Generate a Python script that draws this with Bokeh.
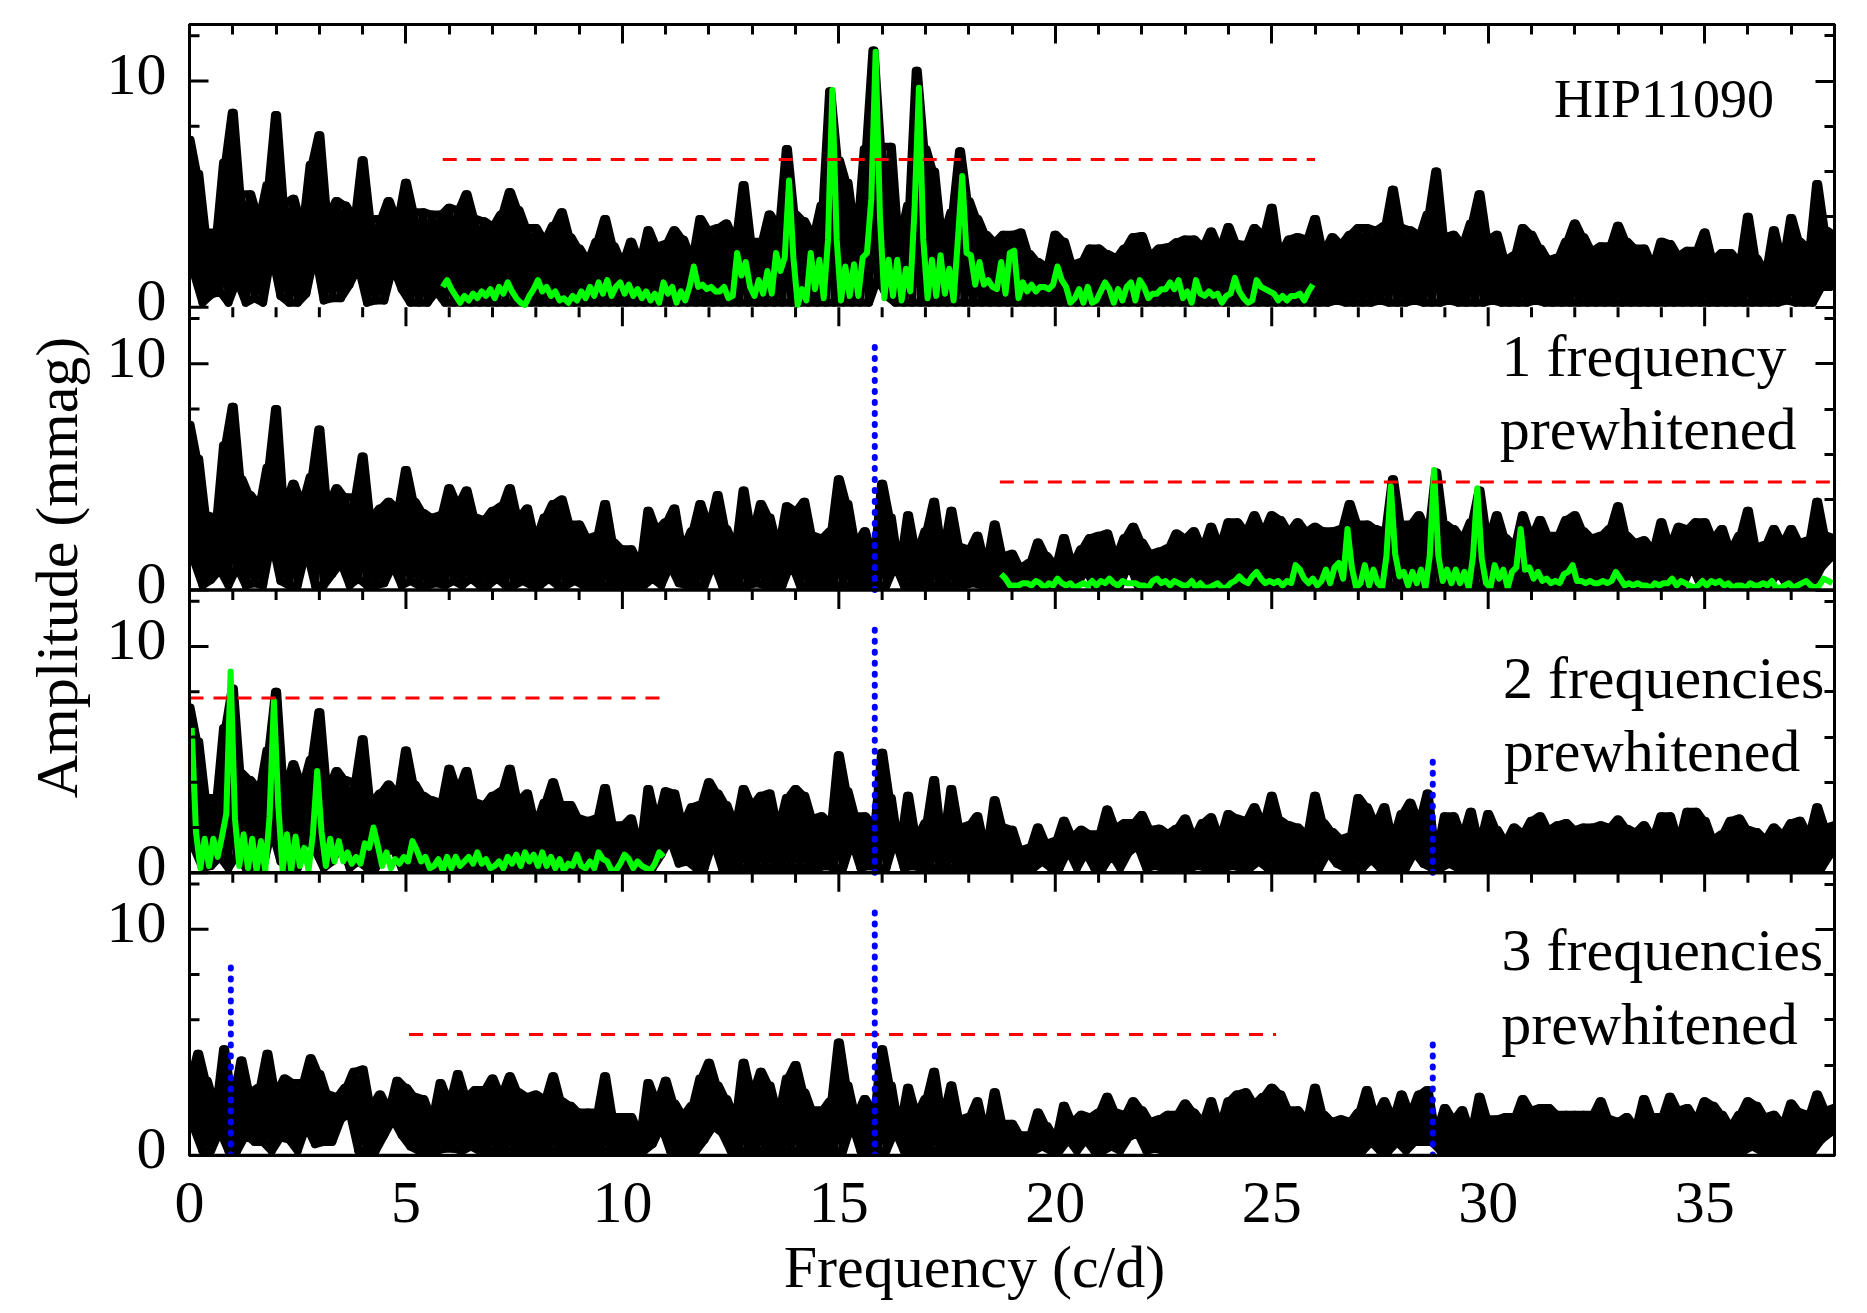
import numpy as np
from bokeh.plotting import figure
from bokeh.models import FixedTicker, LinearAxis, Label, Span, Range1d
from bokeh.embed import file_html
from bokeh.resources import INLINE

# ---------- black spectra: amplitude of the envelope every 0.2 c/d, rows of 2 c/d ----------
top_hip = [
7.4,5.9,3.3,3.3,6.4,8.6,5.0,5.0,4.0,5.4,
8.5,4.6,4.8,3.7,6.3,7.6,4.1,4.7,4.5,4.0,
6.5,3.9,3.9,4.7,3.9,5.5,4.2,4.2,4.1,4.1,
4.4,4.3,5.0,3.9,3.8,3.6,4.1,5.1,4.3,3.5,
3.5,3.0,3.6,4.2,3.1,2.6,2.1,2.9,3.9,2.7,
2.0,2.9,2.1,3.4,2.7,2.8,3.4,3.0,2.2,3.9,
3.4,3.5,3.7,3.0,5.4,2.9,2.9,4.1,3.6,7.0,
4.1,3.8,3.2,4.5,9.55,6.5,5.5,3.3,7.0,11.35,
7.1,7.1,3.1,4.5,10.45,7.0,6.0,3.2,4.2,6.9,
4.7,3.9,3.2,2.9,3.2,3.2,3.3,2.35,2.0,1.8,
3.2,2.9,1.9,2.0,2.6,2.6,2.35,2.2,2.6,3.1,
3.15,2.3,2.6,2.65,2.87,3.0,3.0,2.7,3.35,2.65,
3.55,2.8,2.75,3.5,3.2,4.4,2.4,3.0,3.1,3.0,
3.9,2.5,3.1,2.8,3.2,3.5,3.5,3.4,3.6,5.2,
3.5,3.4,3.2,4.1,6.0,3.1,3.2,2.8,3.7,5.0,
3.0,3.2,2.1,2.3,3.5,3.2,2.6,2.1,2.2,2.9,
3.7,3.1,2.5,2.7,2.7,3.6,2.9,2.6,2.6,1.9,
2.9,2.8,2.3,2.5,2.5,3.3,2.1,2.4,2.4,2.0,
4.0,2.15,1.6,3.4,2.1,3.95,2.9,2.6,5.45,3.4,
3.2]
top_one = [
7.3,5.8,3.3,3.2,6.4,8.1,4.9,4.2,3.8,5.4,
8.0,3.8,4.7,3.9,5.0,7.1,3.8,4.5,4.1,4.1,
5.9,3.2,3.6,3.9,3.6,5.3,3.9,3.4,3.2,3.3,
4.5,3.8,4.4,3.2,3.1,3.5,3.7,4.5,3.2,3.6,
2.3,3.2,3.8,4.0,2.9,2.9,2.3,2.4,3.8,2.1,
1.8,1.8,1.2,3.5,2.7,3.0,3.6,1.9,2.6,3.8,
2.9,4.2,2.7,2.0,4.4,2.6,3.8,3.2,2.0,3.7,
3.5,3.9,2.4,2.3,2.6,4.9,3.8,2.1,2.6,1.5,
4.7,3.2,1.2,3.3,1.7,2.6,3.9,1.8,3.5,1.9,
1.8,2.4,1.2,2.9,1.5,1.6,1.0,1.2,2.1,1.5,
1.1,2.3,1.2,1.8,2.3,2.4,2.5,1.5,2.3,2.8,
2.1,1.6,1.7,1.85,2.5,2.3,2.6,1.9,2.8,2.0,
3.0,3.0,2.6,3.3,2.6,3.3,3.1,2.6,3.0,2.6,
2.8,2.6,2.6,2.7,3.8,2.9,2.9,2.7,2.6,4.9,
2.9,2.9,3.3,2.6,5.2,2.9,2.7,2.3,3.0,4.4,
2.3,3.3,2.3,2.0,3.3,2.4,3.1,2.4,2.4,3.1,
3.3,2.6,2.3,2.4,2.7,3.7,2.4,2.1,2.2,1.8,
3.0,2.0,2.8,2.7,3.0,3.0,2.3,2.7,1.8,2.4,
3.5,1.9,2.0,2.7,2.1,2.7,2.1,2.2,3.9,2.4,
2.3]
top_two = [
7.3,5.8,3.3,3.3,6.4,8.15,4.4,4.1,3.7,5.4,
8.0,3.7,4.8,3.9,5.0,7.1,3.7,4.5,4.1,4.0,
5.9,3.1,3.5,3.9,3.5,5.4,3.9,3.4,3.2,3.1,
4.6,3.7,4.5,3.1,3.0,3.4,3.6,4.6,3.2,3.5,
2.2,3.1,4.0,3.0,3.0,2.4,2.3,2.4,3.75,2.1,
2.1,2.4,1.2,3.7,2.4,3.6,3.5,2.2,2.9,3.0,
4.0,3.5,3.0,2.2,3.7,3.0,3.4,3.5,2.1,3.3,
3.7,3.4,2.4,2.5,2.2,5.2,3.6,2.5,2.5,2.1,
5.3,3.3,1.3,3.4,1.6,2.2,4.1,1.5,3.7,2.0,
2.1,2.5,1.1,3.2,2.0,1.9,1.0,1.1,2.0,1.3,
1.4,2.3,1.6,1.9,1.7,1.7,2.8,2.0,2.2,2.2,
2.55,1.9,1.95,1.75,1.95,2.4,1.6,2.2,2.45,1.6,
2.6,2.4,2.3,2.9,2.2,3.4,2.3,2.1,2.0,1.7,
3.4,2.2,1.8,1.5,1.6,3.3,2.9,2.2,2.9,1.6,
2.6,3.1,2.3,3.5,1.0,2.5,2.5,1.7,2.7,1.4,
2.6,1.9,1.4,2.0,1.75,2.3,2.5,1.9,2.1,2.2,
1.9,2.0,2.0,2.1,2.0,2.35,1.95,1.8,2.1,1.6,
2.5,2.5,1.5,2.7,2.7,2.3,1.5,1.7,2.3,2.4,
1.9,1.8,1.5,2.0,1.7,2.2,2.3,1.7,2.9,2.0,
2.1]
top_three = [
3.3,4.5,3.3,2.3,4.7,2.6,4.2,2.8,3.0,4.5,
2.8,3.4,3.2,3.2,4.3,3.6,2.7,2.6,3.0,3.7,
3.8,2.2,2.7,2.1,3.3,3.0,2.6,2.5,1.7,3.2,
2.4,3.6,2.6,2.9,2.9,3.4,2.7,3.5,2.8,2.6,
2.7,2.5,3.5,2.4,2.2,1.9,1.9,1.9,3.5,1.7,
1.7,1.7,1.0,3.2,2.4,3.3,2.3,1.8,2.2,3.4,
4.1,3.1,2.5,1.7,4.1,2.8,3.7,3.1,1.9,3.4,
4.0,2.8,2.0,2.0,2.4,5.0,3.1,1.8,2.5,1.9,
4.7,3.1,1.4,3.0,1.9,2.5,3.7,1.8,3.1,1.6,
1.7,2.4,1.1,2.8,1.4,1.4,0.9,0.9,1.9,1.3,
0.8,2.2,1.5,1.8,1.7,1.9,2.6,1.9,1.8,2.4,
2.0,1.5,1.6,1.8,1.8,2.3,1.9,1.5,2.4,1.4,
2.4,2.7,2.8,2.3,2.6,3.0,2.7,2.0,2.0,1.6,
3.0,1.8,1.5,1.6,1.5,1.9,2.9,1.8,2.4,1.7,
2.7,1.9,2.7,2.9,1.1,2.1,1.6,2.0,1.1,2.6,
1.6,1.6,1.7,1.7,2.5,2.0,2.1,2.1,1.8,1.8,
1.8,1.8,1.8,2.4,1.6,1.5,1.7,1.3,2.5,1.7,
1.7,2.6,2.0,2.1,1.6,2.4,2.2,1.8,1.3,1.8,
2.4,2.2,1.7,1.8,1.4,2.3,1.9,1.8,2.7,2.0,
2.1]

# troughs that stay clear of the zero line (frequency: amplitude); all others reach TROUGH
TROUGH = 0.2
gaps_hip = {0.1:1.5,0.5:0.55,0.7:0.7,1.1:1.2,1.5:0.4,1.9:2.4,2.1:0.5,2.7:0.6,2.9:2.4,3.1:0.3,3.3:0.4,3.5:0.4,
            3.7:1.0,3.9:1.8,4.3:0.3,4.5:0.3,4.7:1.8,4.9:0.8,5.7:0.7,15.9:1.3,16.1:0.5,26.5:0.3,27.5:0.3,
            28.3:0.3,29.1:0.3,30.1:0.3,31.1:0.3,36.9:0.3,37.7:0.9,37.9:0.9}
gaps_one = {0.1:1.3,0.5:0.45,0.7:0.9,1.1:1.0,1.5:0.3,1.9:2.2,2.1:0.4,2.7:1.8,3.3:0.7,3.5:1.2,3.9:0.5,4.5:0.3,
            4.7:1.1,5.1:0.4,5.7:0.3,6.1:0.4,6.5:0.5,7.1:0.5,7.7:0.4,8.3:0.5,8.9:0.4,10.7:0.5,11.1:1.1,11.3:0.3,
            12.1:1.2,13.1:0.3,13.9:1.2,16.3:1.1,18.1:0.3,20.7:0.9,21.7:1.2,34.7:1.1,36.7:0.8,37.7:1.0,37.9:1.4}
gaps_two = {0.1:1.1,0.5:0.3,0.7:0.7,1.1:0.8,1.9:1.9,2.1:0.5,2.7:1.6,2.9:1.0,3.3:0.5,3.5:1.3,3.9:0.5,4.5:0.8,4.7:1.1,
            10.9:0.8,11.1:1.5,11.3:0.4,11.5:0.5,12.1:1.4,14.7:0.3,15.3:1.4,15.7:0.3,16.3:1.5,16.7:0.3,19.7:0.5,
            20.3:1.0,20.7:0.9,21.3:0.8,21.7:0.9,21.9:1.2,22.3:0.3,23.3:0.3,24.1:0.3,24.7:0.5,26.3:0.9,26.5:0.4,
            27.3:0.6,28.3:0.9,28.5:0.4,29.1:0.4,37.9:0.8}
gaps_three = {0.1:1.2,0.7:1.1,1.3:0.9,1.5:0.6,1.7:0.6,2.1:0.8,2.3:0.7,2.7:1.3,2.9:0.5,3.1:0.6,3.3:0.6,3.5:1.6,3.7:1.9,
              4.5:0.9,4.7:1.6,4.9:0.9,5.1:0.4,5.9:0.3,6.1:0.3,6.5:0.4,10.7:0.5,10.9:1.3,11.9:0.7,12.1:1.3,12.3:1.0,
              15.3:1.4,16.3:1.1,19.7:0.4,20.3:0.7,20.7:0.7,21.3:0.4,21.7:0.8,21.9:1.0,22.3:0.3,27.3:0.6,27.9:0.6,
              28.3:0.6,28.5:0.6,28.7:0.6,36.1:0.4,37.7:0.7,37.9:1.0}

# ---------- green residual spectra: one value every 0.1 c/d from the start frequency ----------
green_hip_start = 5.85
green_hip = [
0.9,1.2,0.8,0.5,0.2,0.5,0.3,0.6,0.4,0.7,
0.5,0.8,0.4,0.9,0.6,1.1,0.7,0.4,0.2,0.1,
0.5,0.8,1.2,0.7,0.9,0.5,0.7,0.3,0.4,0.2,
0.5,0.3,0.7,0.4,0.9,0.5,1.1,0.6,1.2,0.5,
0.9,1.1,0.6,1.0,0.5,0.8,0.4,0.7,0.3,0.6,
0.2,1.1,0.6,0.9,0.2,0.7,0.3,0.9,1.8,0.9,
1.0,0.8,0.9,0.7,0.7,0.9,0.4,0.5,2.4,1.4,
2.0,0.9,0.5,1.2,0.6,1.6,0.6,2.4,1.6,2.2,
5.6,2.2,0.1,0.8,0.3,2.4,0.8,2.1,0.4,3.0,
9.6,3.0,0.3,1.8,0.5,1.9,0.5,2.2,2.4,4.8,
11.3,4.0,0.4,2.1,0.5,2.1,0.3,1.7,0.7,4.4,
9.7,3.0,0.4,2.1,0.5,2.3,0.6,1.7,0.3,3.0,
5.8,2.4,2.3,1.0,2.0,1.0,1.2,0.9,0.8,2.0,
0.6,2.4,2.5,0.4,1.1,0.7,1.0,0.7,0.9,0.9,
0.8,1.0,1.8,1.2,0.9,0.2,0.4,0.8,0.2,0.9,
0.2,0.3,0.7,1.1,0.8,0.2,0.8,0.3,0.9,1.1,
0.3,1.2,0.9,0.4,0.6,0.6,0.8,0.8,1.1,0.8,
1.2,0.4,0.7,0.2,1.2,0.6,0.5,0.7,0.5,0.6,
0.2,0.5,0.6,1.3,0.7,0.4,0.2,0.3,1.2,0.9,
0.8,0.7,0.6,0.3,0.5,0.3,0.5,0.5,0.6,0.3,
0.7,1.0]
green_one_start = 18.75
green_one = [
0.7,0.5,0.2,0.2,0.2,0.3,0.3,0.2,0.4,0.3,
0.1,0.3,0.2,0.5,0.3,0.2,0.3,0.1,0.2,0.3,
0.2,0.4,0.2,0.4,0.3,0.5,0.3,0.2,0.4,0.3,
0.3,0.3,0.2,0.2,0.1,0.4,0.5,0.3,0.4,0.2,
0.4,0.3,0.2,0.2,0.4,0.1,0.3,0.1,0.1,0.2,
0.3,0.1,0.1,0.3,0.4,0.6,0.4,0.3,0.6,0.8,
0.5,0.3,0.4,0.3,0.4,0.2,0.4,0.3,1.1,0.9,
0.5,0.3,0.5,0.2,0.4,0.9,0.3,1.0,1.2,0.5,
2.7,1.0,0.1,0.3,1.1,0.2,0.9,0.3,0.1,1.5,
4.6,1.6,0.6,0.8,0.2,0.8,0.3,0.9,0.1,1.5,
5.3,1.5,0.4,0.9,0.3,0.9,0.3,0.8,0.1,1.5,
4.5,1.4,0.3,0.1,1.1,0.5,0.9,0.1,0.8,1.0,
2.7,0.9,1.0,0.5,0.8,0.4,0.5,0.3,0.4,0.3,
0.7,0.8,1.1,0.4,0.4,0.3,0.4,0.3,0.3,0.4,
0.3,0.4,0.8,0.5,0.2,0.3,0.2,0.3,0.2,0.2,
0.1,0.3,0.2,0.3,0.3,0.5,0.2,0.4,0.3,0.2,
0.1,0.2,0.4,0.2,0.4,0.3,0.4,0.2,0.3,0.1,
0.2,0.2,0.1,0.3,0.2,0.2,0.3,0.2,0.4,0.1,
0.1,0.2,0.3,0.1,0.2,0.3,0.4,0.2,0.1,0.2,
0.5,0.4,0.3]
green_two_start = 0.05
green_two = [
6.4,1.8,0.2,1.5,0.3,1.5,0.7,1.6,2.6,8.9,
2.4,0.3,1.7,0.2,1.5,0.1,1.4,0.1,2.5,7.6,
3.0,0.1,1.7,0.1,1.6,0.3,1.1,0.1,1.7,4.5,
1.8,0.3,1.5,0.5,1.4,0.5,0.9,0.4,0.7,0.4,
1.3,1.1,2.0,1.2,0.3,0.9,0.2,0.6,0.4,0.7,
0.5,1.4,1.0,0.5,0.7,0.2,0.3,0.6,0.1,0.7,
0.2,0.7,0.3,0.5,0.7,0.4,0.9,0.4,0.6,0.2,
0.3,0.5,0.2,0.7,0.4,0.8,0.3,0.9,0.5,0.8,
0.3,0.9,0.3,0.7,0.2,0.6,0.1,0.4,0.3,0.8,
0.3,0.2,0.5,0.2,0.9,0.6,0.5,0.1,0.1,0.4,
0.8,0.6,0.2,0.5,0.3,0.2,0.1,0.4,0.9,0.7]

# ---------- significance levels (start, end, amplitude) and prewhitened frequencies ----------
level_hip = (5.85, 26.0, 6.53)
level_one = (18.72, 38.0, 4.77)
level_two = (0.0, 10.98, 7.72)
level_three = (5.07, 25.1, 5.35)
prewhitened_one = [(15.83, 11.1)]
prewhitened_two = [(15.83, 11.1), (28.72, 5.3)]
prewhitened_three = [(0.955, 8.7), (15.83, 11.17), (28.72, 5.25)]

x_major = [0, 5, 10, 15, 20, 25, 30, 35]
x_minor = [i for i in range(0, 39) if i % 5]
y_major = [0, 10]
y_minor = [2, 4, 6, 8, 12]

SPAN = 12.5           # height of one panel in mmag
OFFSETS = [37.5, 25.0, 12.5, 0.0]
FONT = "Liberation Serif"
LABEL_LIFT = 0.3      # the reference's amplitude labels sit a little above their ticks
PX_Y = 1 / 22.62
PX_X = 1 / 43.29
TEXT_RAISE = 0.82
PLATEAU = 0.025       # half width of a peak's flat top, c/d

p = figure(frame_width=1645, frame_height=1131, min_border_left=189, min_border_right=24,
           min_border_top=24, min_border_bottom=130, toolbar_location=None, output_backend="svg",
           x_range=Range1d(0, 38), y_range=Range1d(0, 50), background_fill_color="white")
p.grid.visible = False
p.outline_line_color = "black"
p.outline_line_width = 3


def style(ax):
    ax.axis_line_width = 3
    ax.axis_line_color = "black"
    ax.major_tick_line_width = 3
    ax.minor_tick_line_width = 3
    ax.major_tick_line_color = "black"
    ax.minor_tick_line_color = "black"
    ax.major_tick_in = 19
    ax.major_tick_out = 0
    ax.minor_tick_in = 10
    ax.minor_tick_out = 0
    ax.major_label_text_font = FONT
    ax.major_label_text_color = "black"
    ax.major_label_text_font_size = "60px"
    ax.axis_label_text_font = FONT
    ax.axis_label_text_font_style = "normal"
    ax.axis_label_text_color = "black"
    ax.axis_label_text_font_size = "60px"


y_major_all = [o + v for o in OFFSETS for v in y_major]
y_minor_all = [o + v for o in OFFSETS for v in y_minor]
label_pos = [o + v + LABEL_LIFT for o in OFFSETS for v in y_major]
overrides = {o + v + LABEL_LIFT: str(v) for o in OFFSETS for v in y_major}

left = p.yaxis[0]
left.ticker = FixedTicker(ticks=label_pos, minor_ticks=[])
left.major_label_overrides = overrides
style(left)
left.major_tick_in = 0
left.major_label_standoff = 23

bottom = p.xaxis[0]
bottom.ticker = FixedTicker(ticks=x_major, minor_ticks=x_minor)
style(bottom)
bottom.major_tick_in = 0
bottom.minor_tick_in = 0
bottom.major_label_standoff = 27
# no-break spaces keep the title off the frame's centre, where the reference has it
bottom.axis_label = "Frequency (c/d)" + "\u00a0" * 5
bottom.axis_label_standoff = 9

amp_axis = LinearAxis(ticker=FixedTicker(ticks=[], minor_ticks=[]))
style(amp_axis)
amp_axis.axis_line_color = None
amp_axis.axis_label = "\u00a0" * 3 + "Amplitude (mmag)"
amp_axis.axis_label_standoff = 14
p.add_layout(amp_axis, "left")

right = LinearAxis(ticker=FixedTicker(ticks=y_major_all, minor_ticks=y_minor_all),
                   major_label_overrides={t: "" for t in y_major_all})
style(right)
right.major_label_standoff = 0
p.add_layout(right, "right")

above = LinearAxis(ticker=FixedTicker(ticks=x_major, minor_ticks=x_minor),
                   major_label_overrides={t: "" for t in x_major})
style(above)
above.major_label_standoff = 0
p.add_layout(above, "above")


def zigzag(top, gaps):
    xs, ys = [], []
    for i, a in enumerate(top):
        f = i * 0.2
        xs.append(f)
        ys.append(a)
        if i < len(top) - 1:
            mid = round(f + 0.1, 1)
            xs.append(f + 0.1)
            ys.append(gaps.get(mid, TROUGH))
    return np.array(xs), np.array(ys)


def plateaus(top):
    xs, ys = [], []
    for i, a in enumerate(top):
        f = i * 0.2
        xs += [f - PLATEAU, f + PLATEAU]
        ys += [a, a]
    return np.array(xs), np.array(ys)


panels = [
    (top_hip, gaps_hip, green_hip_start, green_hip, level_hip, []),
    (top_one, gaps_one, green_one_start, green_one, level_one, prewhitened_one),
    (top_two, gaps_two, green_two_start, green_two, level_two, prewhitened_two),
    (top_three, gaps_three, None, None, level_three, prewhitened_three),
]

for off, (top, gaps, gstart, green, level, marks) in zip(OFFSETS, panels):
    xs, ys = zigzag(top, gaps)
    p.line(xs, ys + off, line_color="black", line_width=8, line_join="round", line_cap="round")
    # flat-topped envelope through the peaks and floor through the troughs close the comb pattern
    ex, ey = plateaus(top)
    p.line(ex, ey + off, line_color="black", line_width=8, line_join="round", line_cap="round")
    p.line(xs[1::2], ys[1::2] + off, line_color="black", line_width=8, line_join="round", line_cap="round")
    if green is not None:
        gx = gstart + np.arange(len(green)) * 0.1
        p.line(gx, np.array(green) + off, line_color="#00ff00", line_width=6, line_join="round")
    p.line([level[0], level[1]], [level[2] + off] * 2, line_color="#ff0000", line_width=3, line_dash="14 10")
    for f, h in marks:
        p.line([f, f], [off, off + h], line_color="#0000ff", line_width=6, line_dash="1 10", line_cap="round")

# panel dividers, the tick marks hanging from each divider, and the left tick marks
for off in OFFSETS[1:]:
    p.add_layout(Span(location=off, dimension="width", line_color="black", line_width=3.5))
for off in OFFSETS[:-1]:
    p.segment(x_major, [off] * len(x_major), x_major, [off - 19 * PX_Y] * len(x_major),
              line_color="black", line_width=3)
    p.segment(x_minor, [off] * len(x_minor), x_minor, [off - 10 * PX_Y] * len(x_minor),
              line_color="black", line_width=3)
p.segment([0] * len(y_major_all), y_major_all, [19 * PX_X] * len(y_major_all), y_major_all,
          line_color="black", line_width=3)
p.segment([0] * len(y_minor_all), y_minor_all, [10 * PX_X] * len(y_minor_all), y_minor_all,
          line_color="black", line_width=3)


def text(x, y, s, size):
    p.add_layout(Label(x=x, y=y + TEXT_RAISE, text=s, text_font=FONT, text_font_size=size, text_color="black",
                       text_baseline="alphabetic", text_align="left"))


text(31.52, 37.5 + 8.39, "HIP11090", "54px")
text(30.31, 25.0 + 9.53, "1 frequency", "60px")
text(30.27, 25.0 + 6.30, "prewhitened", "60px")
text(30.34, 12.5 + 7.79, "2 frequencies", "60px")
text(30.36, 12.5 + 4.56, "prewhitened", "60px")
text(30.31, 8.27, "3 frequencies", "60px")
text(30.30, 5.0, "prewhitened", "60px")

open("out.html", "w").write(file_html(p, INLINE))
